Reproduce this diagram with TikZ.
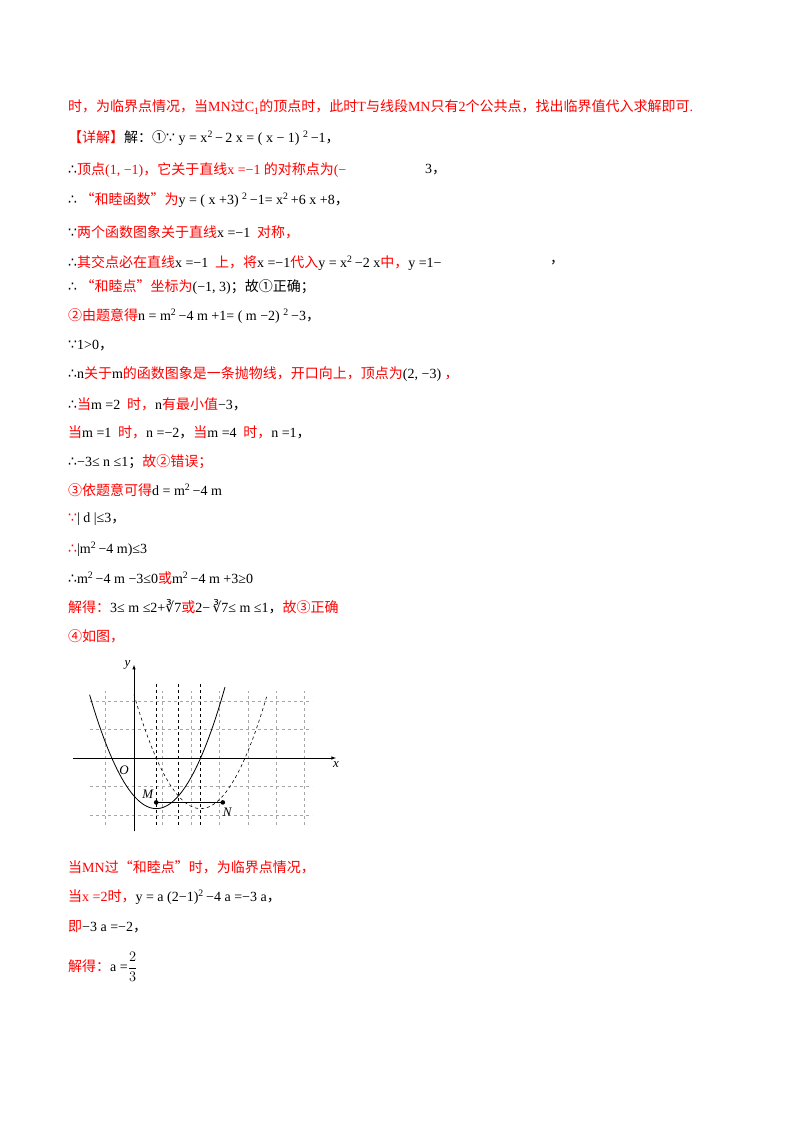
\documentclass[tikz,border=0pt]{standalone}
\usepackage{fontspec}
\setmainfont{Liberation Serif}
\newfontfamily\cjk{Noto Sans CJK SC}
\newfontfamily\symf{DejaVu Sans}
\newcommand\rz[1]{\textcolor{red}{\cjk #1}}
\newcommand\rr[1]{\textcolor{red}{#1}}
\newcommand\zh[1]{{\cjk #1}}
\newcommand\sy[1]{{\symf\fontsize{14}{16}\selectfont #1}}
\newcommand\sq{\textsuperscript{2}}
\newcommand\so{\sy{∴}}
\newcommand\bc{\sy{∵}}
\begin{document}
\begin{tikzpicture}[x=1pt,y=1pt,
  ln/.style={anchor=west,inner sep=0pt,font=\fontsize{14}{16}\selectfont}]
\useasboundingbox (0,0) rectangle (800,-1132);
\node[ln] (l1) at (68,-107) {\rz{时，为临界点情况，当}\rr{MN}\rz{过}\rr{C\textsubscript{1}}\rz{的顶点时，此时}\rr{T}\rz{与线段}\rr{MN}\rz{只有}\rr{2}\rz{个公共点，找出临界值代入求解即可}\rr{.}};
\node[ln] (l2) at (68,-138) {\rz{【详解】}\zh{解：①}\bc\ y = x\sq\,−\,2 x = ( x − 1) \sq\,−1\zh{，}};
\node[ln] (l3) at (68,-170) {\so\rz{顶点}\rr{(1, −1)}\rz{，它关于直线}\rr{x =−1}\rz{ 的对称点为}\rr{(−}};
\node[ln] (l3b) at (425,-170) {3\zh{，}};
\node[ln] (l4) at (68,-200) {\so\ \rz{“和睦函数”为}y = ( x +3) \sq\,−1= x\sq\,+6 x +8\zh{，}};
\node[ln] (l5) at (68,-232) {\bc\rz{两个函数图象关于直线}x =−1 \rz{ 对称，}};
\node[ln] (l6) at (68,-263) {\so\rz{其交点必在直线}x =−1 \rz{ 上，将}x =−1\rz{代入}y = x\sq\,−2 x\rz{中，}y =1−};
\node[ln] (l6b) at (550,-263) {\zh{，}};
\node[ln] (l7) at (68,-287) {\so\ \rz{“和睦点”坐标为}(−1, 3)\zh{；故①正确；}};
\node[ln] (l8) at (68,-316) {\rz{②由题意得}n = m\sq\,−4 m +1= ( m −2) \sq\,−3\zh{，}};
\node[ln] (l9) at (68,-346) {\bc 1>0\zh{，}};
\node[ln] (l10) at (68,-374) {\so n\rz{关于}m\rz{的函数图象是一条抛物线，开口向上，顶点为}(2, −3) \rr{\zh{，}}};
\node[ln] (l11) at (68,-404) {\so\rz{当}m =2 \rz{ 时，}n\rz{有最小值}−3\zh{，}};
\node[ln] (l12) at (68,-432) {\rz{当}m =1 \rz{ 时，}n =−2\zh{，}\rz{当}m =4 \rz{ 时，}n =1\zh{，}};
\node[ln] (l13) at (68,-462) {\so−3≤ n ≤1\zh{；}\rz{故②错误；}};
\node[ln] (l14) at (68,-490) {\rz{③依题意可得}d = m\sq\,−4 m};
\node[ln] (l15) at (68,-519) {\textcolor{red}{\bc}| d |≤3\zh{，}};
\node[ln] (l16) at (68,-549) {\textcolor{red}{\so}|m\sq\,−4 m)≤3};
\node[ln] (l17) at (68,-578) {\so m\sq\,−4 m −3≤0\rz{或}m\sq\,−4 m +3≥0};
\node[ln] (l18) at (68,-607) {\rz{解得：}3≤ m ≤2+\sy{∛}7\rz{或}2−\,\sy{∛}7≤ m ≤1\zh{，}\rz{故③正确}};
\node[ln] (l19) at (68,-636) {\rz{④如图，}};
\node[ln] (l20) at (68,-867) {\rz{当}\rr{MN}\rz{过“和睦点”时，为临界点情况，}};
\node[ln] (l21) at (68,-897) {\rz{当}\rr{x =2}\rz{时，}y = a (2−1)\sq\,−4 a =−3 a\zh{，}};
\node[ln] (l22) at (68,-927) {\rz{即}−3 a =−2\zh{，}};
\node[ln] (l23) at (68,-967) {\rz{解得：}a =$\displaystyle\frac{2}{3}$};
% graph
\begin{scope}[shift={(134,-758)},x=22.2pt,y=22.2pt]
\draw[gray!70,dashed,line width=0.5pt] (-2,-3) grid (8,3);
\draw[-latex,line width=0.6pt] (-2.75,0) -- (9.1,0) node[below,font=\itshape\fontsize{13}{13}\selectfont] (xl) {x};
\draw[-latex,line width=0.6pt] (0,-3.3) -- (0,4.2) node[left,font=\itshape\fontsize{13}{13}\selectfont] (yl) {y};
\node[font=\itshape\fontsize{13}{13}\selectfont] (o) at (-0.45,-0.55) {O};
\foreach \a in {1,2,3} \draw[dashed,line width=0.7pt] (\a,-3) -- (\a,3.35);
\draw[line width=0.8pt,domain=-2:4.1,samples=60] plot (\x,{0.57*((\x-1)^2-4)});
\draw[dashed,line width=0.6pt,domain=0:6,samples=60] plot (\x,{0.57*((\x-3)^2-4)});
\coordinate (M) at (1,-2);
\coordinate (N) at (4,-2);
\draw[line width=0.7pt] (M) -- (N);
\fill (M) circle (2.3pt) (N) circle (2.3pt);
\node[font=\itshape\fontsize{13}{13}\selectfont] (ml) at (0.62,-1.65) {M};
\node[font=\itshape\fontsize{13}{13}\selectfont] (nl) at (4.2,-2.45) {N};
\end{scope}
\end{tikzpicture}
\end{document}
